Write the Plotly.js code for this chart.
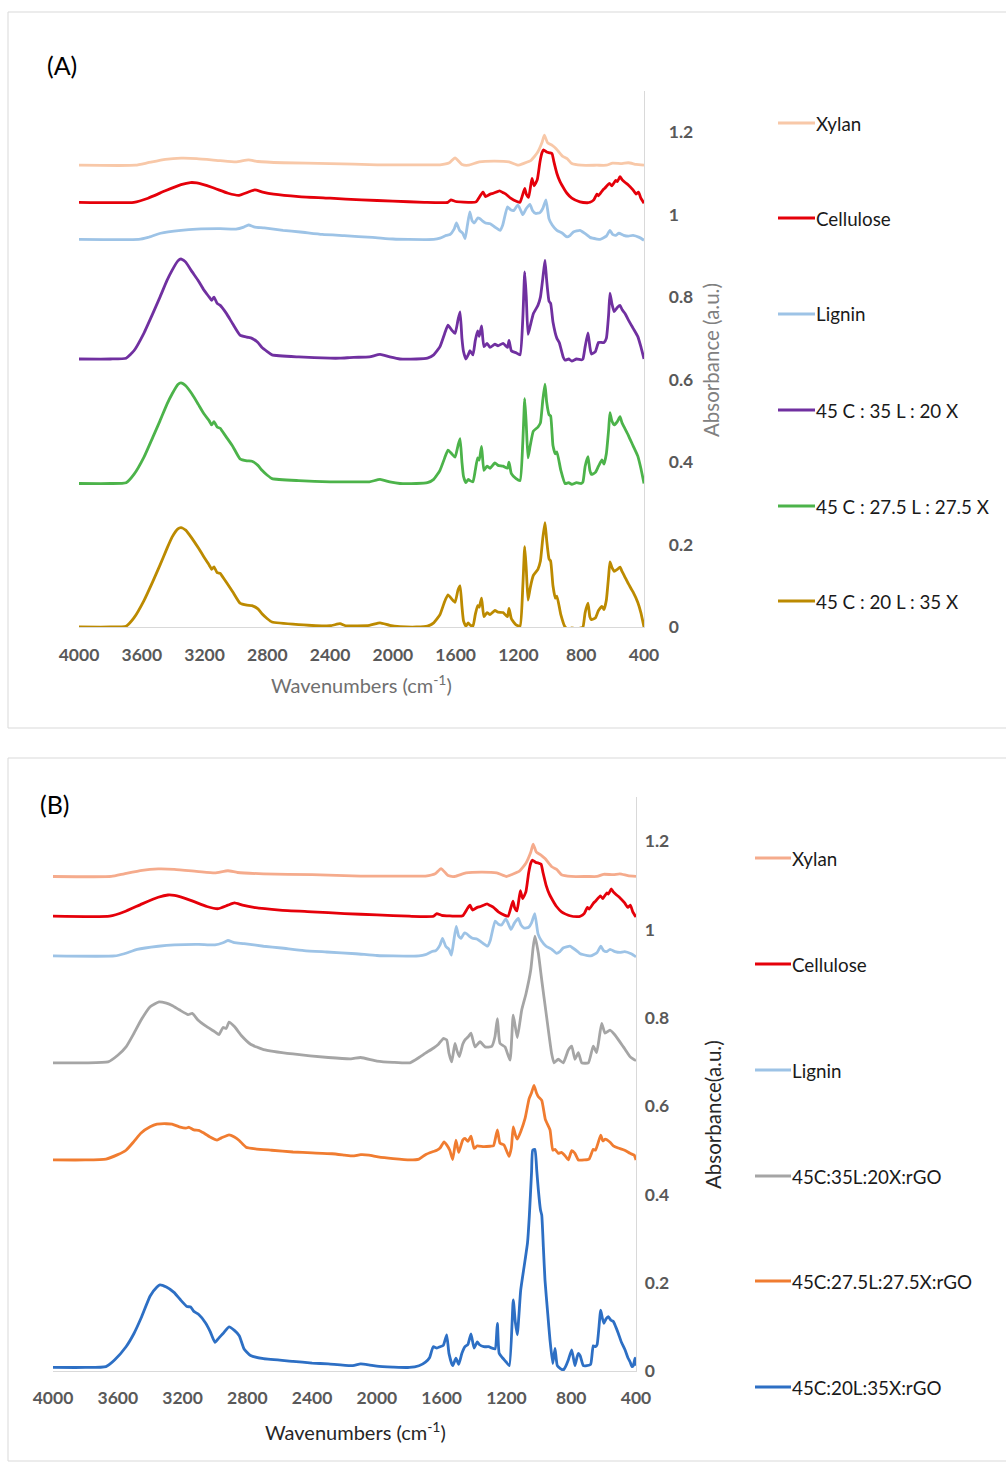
<!DOCTYPE html>
<html>
<head>
<meta charset="utf-8">
<script src="https://cdn.plot.ly/plotly-3.0.1.min.js"></script>
<style>
  html, body { margin: 0; padding: 0; background: #ffffff; }
  #chart { width: 1006px; height: 1463px; }
</style>
</head>
<body>
<div id="chart"></div>
<script>
// FTIR spectra: [wavenumber (cm-1), absorbance (a.u.)]

// Pure components (shared by both panels)
const xylan = [[4000,1.120],[3640,1.120],[3560,1.126],[3450,1.134],[3350,1.137],[3250,1.136],[3100,1.131],[3000,1.128],[2920,1.133],[2860,1.129],[2700,1.126],[2400,1.124],[2100,1.121],[1800,1.121],[1700,1.121],[1640,1.126],[1604,1.138],[1560,1.122],[1520,1.120],[1450,1.128],[1350,1.130],[1260,1.128],[1200,1.120],[1170,1.124],[1120,1.132],[1080,1.150],[1050,1.175],[1035,1.193],[1015,1.175],[985,1.168],[960,1.160],[920,1.142],[890,1.136],[860,1.124],[800,1.120],[700,1.120],[640,1.120],[600,1.125],[540,1.124],[500,1.126],[450,1.122],[400,1.120]];

const cellulose = [[4000,1.030],[3650,1.030],[3560,1.040],[3450,1.058],[3350,1.073],[3290,1.078],[3250,1.077],[3150,1.066],[3050,1.052],[2980,1.047],[2920,1.055],[2880,1.060],[2830,1.055],[2760,1.050],[2600,1.044],[2400,1.040],[2200,1.036],[2000,1.033],[1800,1.030],[1650,1.030],[1630,1.036],[1600,1.032],[1500,1.030],[1470,1.031],[1440,1.048],[1425,1.055],[1410,1.044],[1380,1.050],[1360,1.052],[1320,1.058],[1300,1.054],[1280,1.050],[1250,1.040],[1210,1.032],[1190,1.030],[1160,1.064],[1150,1.050],[1135,1.042],[1114,1.088],[1100,1.070],[1080,1.085],[1063,1.128],[1050,1.150],[1040,1.157],[1020,1.152],[1000,1.150],[986,1.148],[975,1.130],[955,1.100],[935,1.080],[905,1.060],[891,1.052],[860,1.040],[808,1.031],[760,1.029],[744,1.030],[720,1.036],[700,1.050],[690,1.046],[662,1.060],[650,1.064],[620,1.076],[605,1.070],[580,1.083],[570,1.080],[553,1.092],[540,1.085],[520,1.078],[500,1.072],[470,1.060],[450,1.050],[435,1.055],[420,1.040],[400,1.028]];

const lignin = [[4000,0.940],[3620,0.940],[3560,0.945],[3480,0.955],[3350,0.962],[3250,0.965],[3100,0.966],[3000,0.965],[2950,0.970],[2920,0.975],[2880,0.970],[2820,0.968],[2700,0.962],[2590,0.958],[2450,0.952],[2310,0.949],[2130,0.945],[2000,0.941],[1900,0.940],[1740,0.940],[1700,0.943],[1660,0.950],[1636,0.952],[1610,0.965],[1595,0.980],[1575,0.962],[1555,0.955],[1540,0.942],[1525,0.975],[1510,1.007],[1495,0.985],[1480,0.980],[1460,0.992],[1445,0.990],[1430,0.985],[1410,0.980],[1380,0.978],[1350,0.970],[1317,0.962],[1300,0.975],[1270,1.019],[1250,1.012],[1230,1.010],[1204,1.024],[1185,1.010],[1172,1.000],[1150,1.015],[1127,1.025],[1110,1.010],[1090,1.003],[1063,1.005],[1045,1.015],[1025,1.036],[1005,0.990],[985,0.975],[955,0.962],[920,0.955],[891,0.946],[870,0.950],[850,0.958],[808,0.962],[790,0.958],[760,0.950],[744,0.945],[700,0.941],[680,0.940],[640,0.948],[617,0.962],[600,0.952],[580,0.950],[560,0.955],[530,0.950],[500,0.948],[470,0.950],[430,0.945],[400,0.938]];

// Panel A blends
const blend45_35_20 = [[4000,0.650],[3800,0.650],[3700,0.652],[3650,0.670],[3586,0.713],[3530,0.760],[3484,0.800],[3440,0.840],[3407,0.865],[3370,0.888],[3350,0.893],[3320,0.885],[3280,0.862],[3240,0.840],[3204,0.817],[3170,0.800],[3155,0.792],[3140,0.800],[3120,0.785],[3100,0.780],[3089,0.775],[3060,0.760],[3020,0.735],[2974,0.708],[2930,0.703],[2898,0.700],[2860,0.690],[2834,0.678],[2800,0.668],[2770,0.660],[2600,0.655],[2400,0.652],[2337,0.652],[2250,0.654],[2150,0.655],[2082,0.661],[2020,0.655],[1955,0.650],[1850,0.650],[1780,0.652],[1740,0.660],[1700,0.680],[1670,0.712],[1649,0.732],[1625,0.720],[1604,0.712],[1585,0.745],[1572,0.764],[1560,0.700],[1550,0.668],[1535,0.650],[1520,0.660],[1509,0.670],[1490,0.660],[1475,0.695],[1460,0.718],[1450,0.705],[1435,0.730],[1420,0.680],[1400,0.688],[1381,0.678],[1350,0.686],[1330,0.682],[1298,0.688],[1270,0.678],[1260,0.695],[1245,0.670],[1215,0.665],[1190,0.660],[1172,0.750],[1160,0.861],[1150,0.800],[1139,0.710],[1125,0.730],[1105,0.760],[1076,0.780],[1060,0.800],[1045,0.845],[1031,0.890],[1020,0.840],[1005,0.790],[995,0.785],[980,0.740],[955,0.700],[940,0.690],[915,0.655],[903,0.647],[880,0.650],[860,0.645],[830,0.650],[800,0.648],[789,0.650],[775,0.680],[757,0.713],[745,0.680],[735,0.662],[710,0.668],[690,0.690],[668,0.690],[655,0.690],[640,0.700],[625,0.760],[617,0.810],[605,0.785],[590,0.765],[570,0.775],[553,0.780],[540,0.770],[520,0.760],[500,0.745],[470,0.725],[440,0.705],[420,0.680],[400,0.650]];

const blend45_275_275 = [[4000,0.348],[3800,0.348],[3700,0.350],[3650,0.370],[3586,0.412],[3530,0.460],[3484,0.500],[3440,0.540],[3407,0.565],[3370,0.588],[3350,0.592],[3320,0.585],[3280,0.565],[3240,0.540],[3204,0.517],[3170,0.500],[3155,0.490],[3140,0.498],[3120,0.485],[3100,0.482],[3089,0.476],[3060,0.460],[3020,0.438],[2974,0.408],[2930,0.403],[2898,0.402],[2860,0.392],[2834,0.380],[2800,0.368],[2770,0.360],[2600,0.355],[2400,0.352],[2250,0.352],[2150,0.352],[2082,0.358],[2020,0.352],[1955,0.348],[1850,0.348],[1780,0.350],[1740,0.358],[1700,0.380],[1670,0.410],[1649,0.429],[1625,0.420],[1604,0.412],[1585,0.440],[1572,0.457],[1560,0.400],[1550,0.365],[1535,0.350],[1520,0.358],[1509,0.355],[1490,0.352],[1475,0.380],[1460,0.410],[1450,0.405],[1435,0.438],[1420,0.380],[1400,0.390],[1381,0.385],[1350,0.398],[1330,0.392],[1298,0.390],[1270,0.385],[1260,0.400],[1245,0.372],[1215,0.360],[1190,0.355],[1172,0.450],[1160,0.554],[1150,0.490],[1139,0.410],[1125,0.440],[1105,0.475],[1076,0.485],[1060,0.495],[1045,0.550],[1031,0.589],[1020,0.545],[1005,0.515],[995,0.512],[980,0.440],[965,0.420],[955,0.425],[930,0.380],[903,0.348],[880,0.350],[860,0.346],[830,0.350],[800,0.348],[789,0.352],[775,0.390],[757,0.413],[745,0.380],[735,0.370],[710,0.375],[690,0.390],[668,0.405],[655,0.395],[640,0.420],[625,0.480],[617,0.520],[605,0.500],[590,0.490],[570,0.498],[553,0.510],[540,0.495],[520,0.480],[500,0.465],[470,0.440],[440,0.415],[420,0.385],[400,0.348]];

const blend45_20_35 = [[4000,0.000],[3800,0.000],[3700,0.002],[3650,0.022],[3586,0.064],[3530,0.110],[3484,0.150],[3440,0.190],[3407,0.218],[3370,0.238],[3350,0.241],[3320,0.235],[3280,0.215],[3240,0.192],[3204,0.170],[3170,0.150],[3155,0.140],[3140,0.146],[3120,0.132],[3100,0.130],[3089,0.124],[3060,0.108],[3020,0.085],[2974,0.058],[2930,0.053],[2898,0.052],[2860,0.044],[2834,0.032],[2800,0.020],[2770,0.012],[2600,0.006],[2400,0.003],[2337,0.008],[2300,0.003],[2150,0.004],[2082,0.010],[2020,0.004],[1955,0.001],[1850,0.000],[1780,0.002],[1740,0.010],[1700,0.030],[1670,0.062],[1649,0.078],[1625,0.068],[1604,0.060],[1585,0.090],[1572,0.100],[1560,0.050],[1550,0.015],[1535,0.002],[1520,0.010],[1509,0.005],[1490,0.002],[1475,0.030],[1460,0.052],[1450,0.048],[1435,0.070],[1420,0.025],[1400,0.035],[1381,0.030],[1350,0.040],[1330,0.036],[1298,0.035],[1270,0.025],[1260,0.045],[1245,0.020],[1215,0.005],[1190,0.002],[1172,0.100],[1160,0.195],[1150,0.140],[1139,0.065],[1125,0.095],[1105,0.125],[1076,0.140],[1060,0.160],[1045,0.215],[1031,0.253],[1020,0.210],[1005,0.165],[995,0.160],[980,0.100],[965,0.070],[955,0.075],[930,0.030],[903,0.000],[880,-0.005],[860,-0.002],[830,-0.004],[800,-0.002],[789,0.000],[775,0.035],[757,0.058],[745,0.025],[735,0.018],[710,0.022],[690,0.040],[668,0.050],[655,0.042],[640,0.065],[625,0.125],[617,0.158],[605,0.145],[590,0.135],[570,0.140],[553,0.145],[540,0.135],[520,0.120],[500,0.105],[470,0.085],[440,0.060],[420,0.035],[400,0.000]];

// Panel B blends with rGO
const rgo45_35_20 = [[4000,0.698],[3800,0.698],[3660,0.700],[3600,0.715],[3549,0.734],[3500,0.765],[3456,0.795],[3400,0.825],[3345,0.836],[3300,0.833],[3265,0.828],[3220,0.818],[3166,0.807],[3140,0.810],[3105,0.795],[3060,0.782],[3000,0.768],[2975,0.762],[2950,0.778],[2930,0.776],[2913,0.790],[2880,0.780],[2833,0.758],[2780,0.740],[2700,0.728],[2518,0.718],[2300,0.710],[2160,0.707],[2100,0.710],[2000,0.702],[1900,0.699],[1796,0.698],[1740,0.710],[1700,0.720],[1652,0.731],[1620,0.740],[1590,0.753],[1569,0.750],[1555,0.720],[1538,0.700],[1518,0.742],[1505,0.725],[1491,0.712],[1470,0.740],[1456,0.750],[1436,0.757],[1419,0.765],[1394,0.734],[1363,0.746],[1332,0.734],[1291,0.735],[1271,0.757],[1256,0.798],[1240,0.742],[1209,0.734],[1178,0.704],[1158,0.806],[1133,0.755],[1106,0.817],[1079,0.855],[1050,0.908],[1035,0.960],[1024,0.985],[1003,0.946],[982,0.885],[952,0.802],[921,0.719],[906,0.698],[880,0.706],[849,0.698],[818,0.727],[797,0.736],[777,0.706],[756,0.721],[735,0.698],[694,0.698],[664,0.736],[643,0.721],[612,0.787],[591,0.765],[561,0.772],[530,0.761],[478,0.734],[437,0.712],[406,0.704],[400,0.705]];

const rgo45_275_275 = [[4000,0.478],[3800,0.478],[3673,0.480],[3600,0.490],[3549,0.500],[3500,0.520],[3456,0.539],[3400,0.553],[3358,0.559],[3300,0.560],[3265,0.559],[3220,0.553],[3179,0.550],[3160,0.552],[3130,0.546],[3100,0.545],[3074,0.540],[3030,0.530],[2987,0.523],[2960,0.528],[2913,0.535],[2880,0.530],[2850,0.522],[2808,0.507],[2750,0.503],[2650,0.500],[2518,0.496],[2400,0.494],[2277,0.492],[2200,0.489],[2150,0.487],[2100,0.490],[2050,0.489],[1993,0.485],[1900,0.481],[1796,0.478],[1740,0.480],[1700,0.490],[1652,0.497],[1630,0.500],[1610,0.505],[1585,0.519],[1569,0.512],[1550,0.500],[1532,0.479],[1512,0.523],[1495,0.495],[1470,0.523],[1456,0.527],[1438,0.520],[1419,0.532],[1400,0.504],[1380,0.510],[1340,0.508],[1300,0.509],[1280,0.510],[1256,0.546],[1240,0.516],[1215,0.512],[1184,0.486],[1170,0.505],[1158,0.553],[1145,0.535],[1133,0.525],[1112,0.542],[1085,0.572],[1060,0.617],[1045,0.630],[1030,0.647],[1015,0.630],[1003,0.621],[982,0.613],[960,0.570],[931,0.546],[914,0.500],[900,0.502],[880,0.493],[860,0.495],[835,0.486],[818,0.478],[797,0.499],[777,0.493],[756,0.478],[720,0.478],[690,0.480],[664,0.502],[650,0.500],[618,0.534],[605,0.521],[590,0.525],[560,0.518],[540,0.510],[510,0.505],[470,0.500],[437,0.493],[412,0.489],[400,0.478]];

const rgo45_20_35 = [[4000,0.008],[3800,0.008],[3673,0.010],[3620,0.025],[3549,0.055],[3500,0.085],[3456,0.120],[3400,0.170],[3358,0.190],[3340,0.195],[3300,0.190],[3253,0.178],[3210,0.160],[3173,0.146],[3150,0.145],[3130,0.135],[3100,0.128],[3060,0.110],[3030,0.090],[3000,0.065],[2975,0.075],[2950,0.085],[2913,0.100],[2880,0.092],[2850,0.080],[2820,0.050],[2780,0.035],[2700,0.028],[2518,0.022],[2400,0.018],[2300,0.016],[2160,0.012],[2100,0.016],[2050,0.014],[2000,0.011],[1900,0.009],[1800,0.008],[1740,0.012],[1700,0.020],[1675,0.030],[1652,0.055],[1630,0.052],[1610,0.055],[1590,0.058],[1569,0.082],[1555,0.040],[1532,0.012],[1512,0.029],[1495,0.015],[1475,0.040],[1456,0.055],[1438,0.060],[1419,0.084],[1400,0.052],[1380,0.066],[1368,0.060],[1340,0.055],[1310,0.055],[1291,0.052],[1270,0.050],[1256,0.108],[1245,0.040],[1225,0.030],[1203,0.021],[1182,0.012],[1158,0.161],[1145,0.110],[1133,0.082],[1112,0.183],[1085,0.251],[1070,0.290],[1059,0.349],[1045,0.450],[1038,0.500],[1024,0.502],[1013,0.455],[1003,0.410],[990,0.365],[982,0.353],[972,0.280],[962,0.206],[945,0.130],[931,0.070],[914,0.017],[900,0.051],[886,0.012],[865,0.005],[849,0.002],[835,0.010],[818,0.025],[797,0.048],[777,0.012],[765,0.030],[756,0.040],[745,0.035],[725,0.012],[704,0.012],[680,0.015],[664,0.057],[650,0.055],[640,0.060],[618,0.138],[608,0.120],[598,0.108],[585,0.118],[571,0.123],[555,0.115],[540,0.112],[525,0.100],[509,0.085],[490,0.065],[468,0.048],[450,0.030],[437,0.021],[425,0.010],[417,0.012],[406,0.029],[400,0.012]];

// Axis ticks
const wnTicks = [4000, 3600, 3200, 2800, 2400, 2000, 1600, 1200, 800, 400];
const absTicks = [0, 0.2, 0.4, 0.6, 0.8, 1, 1.2];
const absTickText = ['0', '0.2', '0.4', '0.6', '0.8', '1', '1.2'];

// Series definitions per panel
const seriesA = [
  { name: 'Xylan', data: xylan, color: '#f8c8a8' },
  { name: 'Cellulose', data: cellulose, color: '#e5000a' },
  { name: 'Lignin', data: lignin, color: '#9dc3e6' },
  { name: '45 C : 35 L : 20 X', data: blend45_35_20, color: '#7030a0' },
  { name: '45 C : 27.5 L : 27.5 X', data: blend45_275_275, color: '#4cb34a' },
  { name: '45 C : 20 L : 35 X', data: blend45_20_35, color: '#bc8a00' }
];
const seriesB = [
  { name: 'Xylan', data: xylan, color: '#f5ab8c' },
  { name: 'Cellulose', data: cellulose, color: '#e5000a' },
  { name: 'Lignin', data: lignin, color: '#9dc3e6' },
  { name: '45C:35L:20X:rGO', data: rgo45_35_20, color: '#a5a5a5' },
  { name: '45C:27.5L:27.5X:rGO', data: rgo45_275_275, color: '#f07c30' },
  { name: '45C:20L:35X:rGO', data: rgo45_20_35, color: '#2d6fc4' }
];

const W = 1006, H = 1463;
const fx = p => p / W;
const fy = p => 1 - p / H;
const FONT = 'Lato, "Open Sans", sans-serif';

function makeTraces(series, xa, ya) {
  return series.map(s => ({
    type: 'scatter', mode: 'lines', name: s.name,
    x: s.data.map(d => d[0]), y: s.data.map(d => d[1]),
    xaxis: xa, yaxis: ya, showlegend: false,
    line: { color: s.color, width: 2.8, shape: 'spline', smoothing: 0.45 },
    hoverinfo: 'x+y+name'
  }));
}

const traces = makeTraces(seriesA, 'x', 'y').concat(makeTraces(seriesB, 'x2', 'y2'));

function xAxis(domain, anchor, standoff) {
  return {
    domain: domain, anchor: anchor, range: [4000, 400],
    tickmode: 'array', tickvals: wnTicks, ticks: '', ticklabelstandoff: standoff,
    tickfont: { family: FONT, size: 17.5, color: '#595959', weight: 'bold' },
    showline: true, linecolor: '#d9d9d9', linewidth: 1.3,
    showgrid: false, zeroline: false, fixedrange: true
  };
}
function yAxis(domain, anchor, standoff) {
  return {
    domain: domain, anchor: anchor, range: [0, 1.3], side: 'right',
    tickmode: 'array', tickvals: absTicks, ticktext: absTickText, ticks: '',
    ticklabelstandoff: standoff,
    tickfont: { family: FONT, size: 17.5, color: '#595959', weight: 'bold' },
    showline: true, linecolor: '#d9d9d9', linewidth: 1.3,
    showgrid: false, zeroline: false, fixedrange: true
  };
}

const annotations = [];
const shapes = [];

// Panel frames
shapes.push({ type: 'rect', xref: 'paper', yref: 'paper', x0: fx(8), x1: fx(1012), y0: fy(728), y1: fy(12), line: { color: '#d9d9d9', width: 1 }, layer: 'below' });
shapes.push({ type: 'rect', xref: 'paper', yref: 'paper', x0: fx(8), x1: fx(1012), y0: fy(1461), y1: fy(758), line: { color: '#d9d9d9', width: 1 }, layer: 'below' });

function label(text, x, y, opts) {
  annotations.push(Object.assign({
    text: text, xref: 'paper', yref: 'paper', x: fx(x), y: fy(y),
    xanchor: 'left', yanchor: 'middle', showarrow: false,
    font: { family: FONT, size: 17, color: '#000000' }
  }, opts || {}));
}

// Panel tags
label('(A)', 45, 65, { font: { family: FONT, size: 25, color: '#000000' } });
label('(B)', 38, 804, { font: { family: FONT, size: 25, color: '#000000' } });

// Axis titles
label('Wavenumbers (cm<sup>-1</sup>)', 361, 684, { xanchor: 'center', font: { family: FONT, size: 20, color: '#6f6f6f' } });
label('Absorbance (a.u.)', 711, 360, { xanchor: 'center', textangle: -90, font: { family: FONT, size: 20.5, color: '#808080' } });
label('Wavenumbers (cm<sup>-1</sup>)', 355, 1431, { xanchor: 'center', font: { family: FONT, size: 20, color: '#262626' } });
label('Absorbance(a.u.)', 713, 1115, { xanchor: 'center', textangle: -90, font: { family: FONT, size: 20.5, color: '#262626' } });

// Legends: short line sample followed by the series name
function legend(series, lineX0, lineX1, textX, rows) {
  series.forEach((s, i) => {
    const yy = rows[i];
    shapes.push({ type: 'line', xref: 'paper', yref: 'paper', x0: fx(lineX0), x1: fx(lineX1), y0: fy(yy), y1: fy(yy), line: { color: s.color, width: 2.8 } });
    label(s.name, textX, yy, { font: { family: FONT, size: 18.8, color: '#1a1a1a' } });
  });
}
legend(seriesA, 778, 815, 814, [123, 218, 314, 410, 506, 601]);
legend(seriesB, 755, 791, 790, [858, 964, 1070, 1176, 1281, 1387]);

const layout = {
  width: W, height: H,
  margin: { l: 0, r: 0, t: 0, b: 0 },
  paper_bgcolor: '#ffffff', plot_bgcolor: '#ffffff',
  showlegend: false,
  xaxis: xAxis([fx(79), fx(644)], 'y', 12),
  yaxis: yAxis([fy(627), fy(91)], 'x', 20),
  xaxis2: xAxis([fx(53), fx(636)], 'y2', 11),
  yaxis2: yAxis([fy(1371), fy(797)], 'x2', 4),
  annotations: annotations,
  shapes: shapes,
  font: { family: FONT }
};

Plotly.newPlot('chart', traces, layout, { displayModeBar: false, staticPlot: true });
</script>
</body>
</html>
